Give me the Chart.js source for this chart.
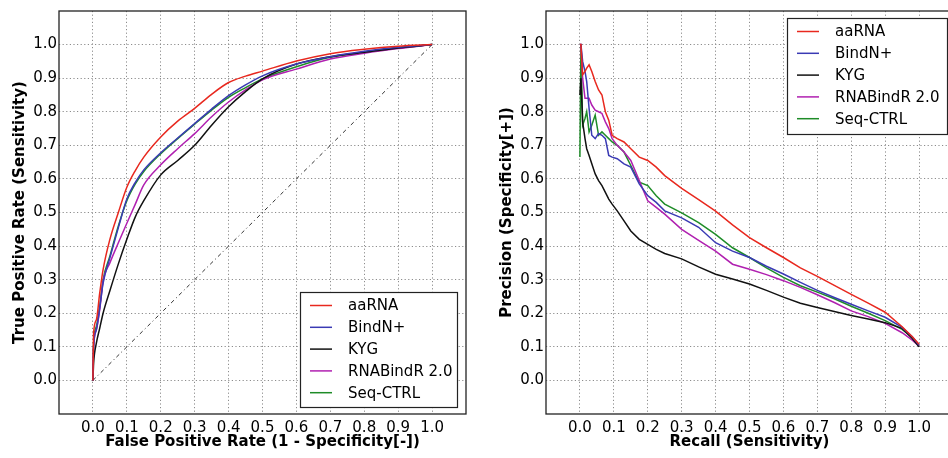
<!DOCTYPE html>
<html>
<head>
<meta charset="utf-8">
<script src="https://cdn.jsdelivr.net/npm/chart.js@4"></script>
<style>
  html, body { margin: 0; padding: 0; background: #fff; overflow: hidden; }
  #wrap { position: relative; width: 948px; height: 458px; overflow: hidden; }
  #rocChart { position: absolute; left: 0; top: 0; }
  #prChart { position: absolute; left: 474px; top: 0; }
</style>
</head>
<body>
<div id="wrap">
  <canvas id="rocChart" width="474" height="458"></canvas>
  <canvas id="prChart" width="500" height="458"></canvas>
</div>
<script>
// methods + colours
const methods = ['aaRNA', 'BindN+', 'KYG', 'RNABindR 2.0', 'Seq-CTRL'];
const colors = ['#e8281e', '#3a3ab4', '#111111', '#b020b0', '#1e8c28'];

// tick values shown on both axes
const tickValues = [0.0, 0.1, 0.2, 0.3, 0.4, 0.5, 0.6, 0.7, 0.8, 0.9, 1.0];

// ROC curves (false positive rate -> true positive rate)
const rocFpr      = [0, 0.002, 0.01, 0.02, 0.03, 0.05, 0.075, 0.1, 0.125, 0.15, 0.2, 0.25, 0.3, 0.35, 0.4, 0.45, 0.5, 0.6, 0.7, 0.8, 0.9, 1.0];
const rocAaRNA    = [0, 0.14, 0.18, 0.26, 0.33, 0.42, 0.50, 0.575, 0.625, 0.665, 0.725, 0.772, 0.81, 0.852, 0.887, 0.906, 0.921, 0.951, 0.973, 0.986, 0.995, 1.0];
const rocBindN    = [0, 0.10, 0.15, 0.215, 0.29, 0.365, 0.455, 0.54, 0.59, 0.627, 0.678, 0.722, 0.765, 0.808, 0.848, 0.88, 0.907, 0.942, 0.964, 0.98, 0.992, 1.0];
const rocKYG      = [0, 0.05, 0.11, 0.155, 0.20, 0.267, 0.347, 0.42, 0.487, 0.535, 0.612, 0.655, 0.70, 0.76, 0.815, 0.86, 0.898, 0.942, 0.964, 0.977, 0.99, 1.0];
const rocRNABindR = [0, 0.10, 0.15, 0.21, 0.295, 0.35, 0.41, 0.468, 0.525, 0.582, 0.642, 0.69, 0.735, 0.785, 0.829, 0.865, 0.895, 0.927, 0.957, 0.974, 0.988, 1.0];
const rocSeqCtrl  = [0, 0.11, 0.16, 0.22, 0.30, 0.37, 0.46, 0.535, 0.585, 0.622, 0.675, 0.72, 0.763, 0.805, 0.843, 0.872, 0.898, 0.934, 0.962, 0.977, 0.99, 1.0];
// random guess diagonal
const diagX = [0, 1];
const diagY = [0, 1];

// precision-recall curves (recall -> precision)
const prRecall     = [0, 0.003, 0.008, 0.015, 0.02, 0.027, 0.035, 0.045, 0.055, 0.065, 0.075, 0.085, 0.095, 0.11, 0.13, 0.15, 0.175, 0.2, 0.225, 0.25, 0.3, 0.35, 0.4, 0.45, 0.5, 0.55, 0.6, 0.65, 0.7, 0.75, 0.8, 0.85, 0.9, 0.95, 0.98, 1.0];
const prAaRNA      = [1.0, 1.0, 0.91, 0.92, 0.93, 0.94, 0.92, 0.89, 0.865, 0.85, 0.80, 0.775, 0.73, 0.72, 0.71, 0.69, 0.665, 0.655, 0.635, 0.61, 0.572, 0.538, 0.504, 0.463, 0.425, 0.395, 0.366, 0.335, 0.31, 0.283, 0.256, 0.23, 0.203, 0.16, 0.13, 0.108];
const prBindN      = [1.0, 1.0, 0.95, 0.92, 0.89, 0.81, 0.73, 0.72, 0.735, 0.73, 0.72, 0.67, 0.665, 0.66, 0.645, 0.635, 0.585, 0.55, 0.53, 0.505, 0.484, 0.456, 0.41, 0.385, 0.366, 0.34, 0.317, 0.292, 0.268, 0.247, 0.227, 0.207, 0.188, 0.158, 0.13, 0.105];
const prKYG        = [0.85, 0.90, 0.77, 0.72, 0.69, 0.67, 0.645, 0.615, 0.595, 0.58, 0.56, 0.54, 0.525, 0.505, 0.475, 0.445, 0.42, 0.405, 0.39, 0.378, 0.362, 0.338, 0.316, 0.302, 0.287, 0.268, 0.248, 0.23, 0.217, 0.205, 0.193, 0.183, 0.172, 0.155, 0.125, 0.10];
const prRNABindR   = [1.0, 1.0, 0.90, 0.84, 0.84, 0.84, 0.82, 0.805, 0.80, 0.795, 0.77, 0.75, 0.72, 0.70, 0.68, 0.655, 0.595, 0.535, 0.515, 0.495, 0.45, 0.417, 0.385, 0.346, 0.331, 0.315, 0.297, 0.277, 0.255, 0.232, 0.207, 0.19, 0.17, 0.142, 0.12, 0.102];
const prSeqCtrl    = [0.665, 1.0, 0.76, 0.78, 0.80, 0.74, 0.76, 0.79, 0.73, 0.74, 0.73, 0.72, 0.71, 0.70, 0.68, 0.64, 0.59, 0.58, 0.55, 0.525, 0.499, 0.47, 0.435, 0.395, 0.366, 0.335, 0.307, 0.282, 0.263, 0.243, 0.221, 0.2, 0.178, 0.152, 0.128, 0.104];

const rocSeries = [rocAaRNA, rocBindN, rocKYG, rocRNABindR, rocSeqCtrl];
const prSeries = [prAaRNA, prBindN, prKYG, prRNABindR, prSeqCtrl];

Chart.defaults.font.family = "'DejaVu Sans', 'Bitstream Vera Sans', sans-serif";
Chart.defaults.font.size = 15;
Chart.defaults.color = '#000';

function toPoints(xs, ys) {
  return xs.map((x, i) => ({ x: x, y: ys[i] }));
}

// box around the plotting area like matplotlib spines
const framePlugin = {
  id: 'frame',
  afterDatasetsDraw(chart) {
    const { ctx, chartArea: a } = chart;
    ctx.save();
    ctx.strokeStyle = '#222';
    ctx.lineWidth = 1.3;
    ctx.strokeRect(a.left, a.top, a.right - a.left, a.bottom - a.top);
    ctx.restore();
  }
};

// legend drawn inside the axes
const boxLegend = {
  id: 'boxLegend',
  afterDraw(chart, args, opts) {
    const { ctx, chartArea: a } = chart;
    const left = a.right - opts.right - opts.w;
    const top = opts.bottom != null ? a.bottom - opts.bottom - opts.h : a.top + opts.top;
    ctx.save();
    ctx.fillStyle = '#fff';
    ctx.fillRect(left, top, opts.w, opts.h);
    ctx.strokeStyle = '#222';
    ctx.lineWidth = 1.2;
    ctx.strokeRect(left + 0.5, top + 0.5, opts.w, opts.h);
    ctx.font = "15px 'DejaVu Sans', sans-serif";
    ctx.textBaseline = 'middle';
    let row = 0;
    chart.data.datasets.forEach(ds => {
      if (!ds.label) return;
      const y = top + 13.5 + row * 21.8;
      ctx.strokeStyle = ds.borderColor;
      ctx.lineWidth = 1.5;
      ctx.beginPath();
      ctx.moveTo(left + 10, y);
      ctx.lineTo(left + 32, y);
      ctx.stroke();
      ctx.fillStyle = '#000';
      ctx.fillText(ds.label, left + 48, y + 1);
      row++;
    });
    ctx.restore();
  }
};

function axis(title, size, titlePad, isY) {
  return {
    type: 'linear',
    min: -0.1,
    max: 1.1,
    afterBuildTicks: s => { s.ticks = tickValues.map(v => ({ value: v })); },
    afterFit: s => { if (isY) s.width = size; else s.height = size; },
    ticks: { padding: isY ? 2 : 5, callback: v => v.toFixed(1), font: { size: 15 } },
    grid: { color: '#8c8c8c', lineWidth: 1, drawTicks: false },
    border: { display: false, dash: [1.2, 2.4] },
    title: { display: true, text: title, font: { size: 15, weight: 'bold' }, padding: titlePad }
  };
}

function lineSet(label, color, pts, smooth) {
  return {
    label: label,
    data: pts,
    borderColor: color,
    borderWidth: 1.5,
    pointRadius: 0,
    fill: false,
    tension: 0,
    cubicInterpolationMode: smooth ? 'monotone' : 'default'
  };
}

const rocDatasets = methods.map((m, i) => lineSet(m, colors[i], toPoints(rocFpr, rocSeries[i]), true));
rocDatasets.push({
  label: '',
  data: toPoints(diagX, diagY),
  borderColor: '#333',
  borderWidth: 1,
  borderDash: [4, 3, 1, 3],
  pointRadius: 0,
  fill: false
});

new Chart(document.getElementById('rocChart'), {
  type: 'line',
  data: { datasets: rocDatasets },
  options: {
    responsive: false,
    animation: false,
    layout: { padding: { left: 0, right: 8, top: 7, bottom: 0 } },
    scales: {
      x: axis('False Positive Rate (1 - Specificity[-])', 44, { bottom: 7 }, false),
      y: axis('True Positive Rate (Sensitivity)', 59, { top: 11 }, true)
    },
    plugins: {
      legend: { display: false },
      tooltip: { enabled: false },
      boxLegend: { right: 9, bottom: 7, w: 157, h: 115 }
    }
  },
  plugins: [framePlugin, boxLegend]
});

const prDatasets = methods.map((m, i) => lineSet(m, colors[i], toPoints(prRecall, prSeries[i]), false));

new Chart(document.getElementById('prChart'), {
  type: 'line',
  data: { datasets: prDatasets },
  options: {
    responsive: false,
    animation: false,
    layout: { padding: { left: 0, right: 21, top: 7, bottom: 0 } },
    scales: {
      x: axis('Recall (Sensitivity)', 44, { bottom: 7 }, false),
      y: axis('Precision (Specificity[+])', 72, { top: 24 }, true)
    },
    plugins: {
      legend: { display: false },
      tooltip: { enabled: false },
      boxLegend: { right: 6, top: 7, w: 160, h: 116 }
    }
  },
  plugins: [framePlugin, boxLegend]
});
</script>
</body>
</html>
